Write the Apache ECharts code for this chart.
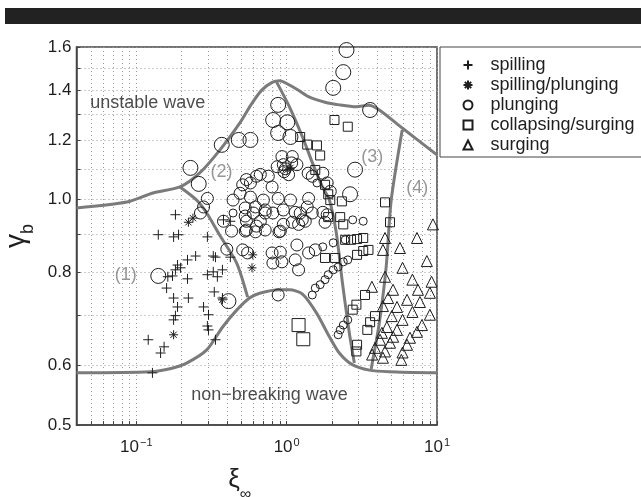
<!DOCTYPE html>
<html><head><meta charset="utf-8">
<script src="https://cdn.jsdelivr.net/npm/echarts@6/dist/echarts.min.js"></script>
<style>html,body{margin:0;padding:0;background:#fff}#c{width:641px;height:497px}</style>
</head><body><div id="c"></div>
<script>
// ---- axis ticks / grid values ----
const xTicks = [0.1, 1, 10];
const xGrid = [0.05,0.06,0.07,0.08,0.09,0.1,0.2,0.3,0.4,0.5,0.6,0.7,0.8,0.9,1,2,3,4,5,6,7,8,9,10];
const yTicks = [0.5, 0.6, 0.8, 1.0, 1.2, 1.4, 1.6];
const yGrid = [0.5,0.6,0.7,0.8,0.9,1.0,1.1,1.2,1.3,1.4,1.5,1.6];

// ---- data points [xi_inf, gamma_b] ----
const spilling = [[0.182,0.955],[0.140,0.898],[0.177,0.892],[0.191,0.898],[0.297,0.892],[0.248,0.841],[0.219,0.831],[0.188,0.818],[0.182,0.806],[0.197,0.811],[0.174,0.791],[0.162,0.789],[0.219,0.784],[0.159,0.762],[0.177,0.739],[0.222,0.739],[0.188,0.719],[0.182,0.700],[0.177,0.691],[0.120,0.650],[0.153,0.636],[0.145,0.624],[0.128,0.587],[0.325,0.841],[0.297,0.794],[0.325,0.801],[0.374,0.806],[0.346,0.789],[0.330,0.753],[0.374,0.739],[0.280,0.719],[0.302,0.702],[0.297,0.678],[0.302,0.670],[0.336,0.650],[0.380,0.940],[0.422,0.838],[0.336,0.838],[0.422,0.936]];
const spillingPlunging = [[0.222,0.933],[0.238,0.945],[0.177,0.660],[0.374,0.735],[0.588,0.811],[0.595,0.844],[1.01,1.096],[1.06,1.103]];
const plungingLarge = [[2.50,1.585],[2.38,1.481],[2.04,1.411],[3.59,1.318],[0.878,1.339],[0.813,1.278],[1.01,1.269],[0.878,1.228],[1.06,1.213],[0.574,1.202],[0.48,1.202],[0.37,1.184],[0.229,1.103],[0.26,1.050],[2.85,1.097],[0.140,0.791],[0.41,0.732],[2.64,1.017]];
const plungingMid = [[0.93,1.142],[1.09,1.142],[0.95,1.114],[1.17,1.114],[0.865,1.107],[0.63,1.075],[0.51,1.047],[0.574,1.053],[0.297,1.004],[0.44,0.999],[0.49,1.020],[0.53,0.975],[0.60,0.960],[0.267,0.960],[0.38,0.936],[0.43,0.908],[0.54,0.936],[0.53,0.908],[0.63,0.922],[0.668,1.081],[0.755,1.075],[0.54,1.064],[1.39,1.085],[1.48,1.075],[1.74,1.085],[1.86,1.053],[0.80,1.040],[0.70,0.999],[0.574,1.008],[0.878,1.004],[1.06,0.999],[1.40,1.004],[1.37,0.978],[1.95,1.026],[0.62,0.978],[0.72,0.969],[0.95,0.969],[1.23,0.960],[1.48,0.960],[1.74,0.962],[1.80,0.933],[0.668,0.936],[0.907,0.908],[1.20,0.927],[1.33,0.936],[0.53,0.951],[0.72,0.960],[0.81,0.960],[1.14,0.962],[1.86,0.955],[0.54,0.911],[0.62,0.906],[0.72,0.911],[0.89,0.906],[0.95,0.927],[1.09,0.933],[1.27,0.940],[1.17,0.870],[1.40,0.849],[1.55,0.857],[0.80,0.849],[0.907,0.851],[0.81,0.823],[0.93,0.826],[1.14,0.831],[1.20,0.806],[0.51,0.857],[0.55,0.849],[0.878,0.746],[0.40,0.859],[0.28,0.978],[0.98,1.10],[1.03,1.08],[0.96,1.09],[1.08,1.12]];
const plungingSmall = [[0.44,0.960],[1.59,1.053],[2.75,0.940],[3.23,0.936],[1.74,0.865],[2.04,0.876],[2.45,0.884],[1.48,0.746],[1.55,0.762],[1.67,0.770],[1.80,0.782],[1.89,0.794],[2.04,0.806],[2.20,0.813],[2.38,0.826],[2.55,0.831],[2.20,0.660],[2.27,0.670],[2.38,0.680],[2.55,0.691]];
const collapsing = [[2.08,1.278],[2.55,1.252],[1.23,1.213],[1.37,1.185],[1.59,1.182],[1.67,1.146],[1.55,1.096],[1.80,1.047],[1.89,1.017],[1.95,0.999],[2.33,0.995],[4.51,0.992],[1.89,0.948],[2.27,0.948],[2.38,0.927],[4.87,0.933],[2.45,0.884],[2.68,0.884],[2.94,0.886],[3.23,0.889],[2.94,0.844],[3.23,0.854],[3.50,0.857],[1.80,0.836],[2.10,0.836],[3.32,0.746],[2.91,0.724],[2.75,0.713],[3.87,0.699],[3.59,0.686],[3.44,0.670],[2.94,0.640],[2.91,0.627]];
const collapsingLarge = [[1.20,0.680],[1.29,0.651]];
const surging = [[9.4,0.927],[7.36,0.889],[4.51,0.889],[4.37,0.857],[5.67,0.862],[8.56,0.828],[5.90,0.811],[4.51,0.789],[6.86,0.782],[9.2,0.777],[3.69,0.765],[5.10,0.758],[7.47,0.758],[8.97,0.751],[4.73,0.739],[6.32,0.735],[7.70,0.730],[4.37,0.721],[5.42,0.719],[6.86,0.708],[8.97,0.702],[5.00,0.699],[5.90,0.691],[7.94,0.680],[4.64,0.676],[5.42,0.670],[7.36,0.666],[4.30,0.664],[5.11,0.656],[6.61,0.654],[4.18,0.650],[4.87,0.644],[6.32,0.640],[3.87,0.634],[4.51,0.627],[5.90,0.625],[3.70,0.621],[4.37,0.615],[5.79,0.611]];

// ---- boundary curves ----
const upperCurve = [[0.04,0.975],[0.0865,0.993],[0.129,1.021],[0.195,1.040],[0.264,1.086],[0.359,1.165],[0.487,1.266],[0.58,1.34],[0.68,1.40],[0.80,1.435],[0.90,1.442],[1.0,1.43],[1.2,1.40],[1.42,1.371],[1.8,1.35],[2.24,1.339],[2.9,1.331],[3.5,1.337],[4.13,1.318],[5.87,1.247],[10,1.148]];
const lowerCurve = [[0.04,0.587],[0.123,0.589],[0.17,0.595],[0.216,0.605],[0.294,0.630],[0.375,0.676],[0.465,0.712],[0.566,0.739],[0.661,0.750],[0.896,0.758],[1.045,0.758],[1.275,0.748],[1.578,0.706],[1.925,0.656],[2.24,0.624],[2.73,0.602],[3.55,0.592],[4.82,0.589],[10,0.587]];
const divider12 = [[0.195,1.040],[0.252,0.999],[0.294,0.960],[0.358,0.897],[0.465,0.823],[0.55,0.741]];
const divider23 = [[0.856,1.437],[1.045,1.330],[1.275,1.213],[1.484,1.120],[1.73,1.040],[1.925,0.999],[2.14,0.903],[2.35,0.774],[2.61,0.664],[2.82,0.605]];
const divider34 = [[5.87,1.239],[4.96,0.999],[4.59,0.813],[4.13,0.684],[3.71,0.605],[3.65,0.594]];

// ---- annotations [text, x, y, kind] ----
const notes = [['unstable wave',0.119,1.347,'t'],['non\u2212breaking wave',0.769,0.548,'t'],['(1)',0.0852,0.793,'r'],['(2)',0.369,1.089,'r'],['(3)',3.71,1.141,'r'],['(4)',7.38,1.037,'r']];

const FONT = '"Liberation Sans", Arial, Helvetica, sans-serif';
const INK = '#1e1e1e';
const PLUS = 'path://M5,0L5,10M0,5L10,5';
const STAR = 'path://M5,0L5,10M0,5L10,5M1.5,1.5L8.5,8.5M8.5,1.5L1.5,8.5';

function pts(name, data, symbol, size) {
  return {type:'scatter', name, data, symbol, symbolSize:size, silent:true, z:4,
    itemStyle:{color:'rgba(0,0,0,0)', borderColor:INK, borderWidth:1, opacity:1},
    emphasis:{disabled:true}};
}
function curve(data) {
  return {type:'line', data, symbol:'none', showSymbol:false, smooth:0.25, silent:true, z:3,
    lineStyle:{color:'#7b7b7b', width:3}, emphasis:{disabled:true}};
}

const chart = echarts.init(document.getElementById('c'), null, {renderer:'canvas'});
chart.setOption({
  backgroundColor:'#fff',
  animation:false,
  textStyle:{fontFamily:FONT},
  graphic:[
    {type:'rect', shape:{x:5,y:8,width:636,height:16}, style:{fill:'#222'}, z:10},
    {type:'rect', shape:{x:440,y:47,width:300,height:110}, style:{fill:'#fff', stroke:'#444', lineWidth:1}, z:1}
  ],
  grid:{left:76.5, right:204, top:47, bottom:72, show:true, borderColor:'#444', borderWidth:1.5,
        backgroundColor:'#fff', containLabel:false, outerBoundsMode:'none'},
  legend:{
    data:['spilling','spilling/plunging','plunging','collapsing/surging','surging'],
    orient:'vertical', left:440, top:47, padding:[8,10,2,22.5], itemGap:0,
    itemWidth:9, itemHeight:9, borderWidth:0, z:5,
    selectedMode:false,
    textStyle:{fontSize:18, color:INK, fontFamily:FONT, lineHeight:20, padding:[0,0,0,13]}
  },
  xAxis:{
    type:'log', logBase:10, min:0.04, max:10,
    name:'{a|\u03BE}{b|\u221E}', nameLocation:'middle', nameGap:40,
    nameTextStyle:{padding:[0,34,0,0], rich:{a:{fontSize:26, color:INK, fontFamily:FONT, lineHeight:30}, b:{fontSize:16, color:INK, fontFamily:FONT, verticalAlign:'bottom', padding:[0,0,-8,0]}}},
    axisLine:{onZero:false, lineStyle:{color:'#444', width:1.5}},
    axisTick:{customValues:xGrid, inside:true, length:4, lineStyle:{color:'#444'}},
    axisLabel:{customValues:xTicks, fontSize:17, color:INK, margin:12, fontFamily:FONT,
      formatter:v=>{const e=Math.round(Math.log10(v)); return '10{s|'+(e<0?'\u2212'+(-e):e)+'}';},
      rich:{s:{fontSize:11, color:INK, fontFamily:FONT, verticalAlign:'top', padding:[0,0,10,1]}}},
    splitLine:{show:true, lineStyle:{color:'#999', width:1, type:[1,3]}}
  },
  yAxis:{
    type:'log', logBase:10, min:0.5, max:1.6,
    name:'{a|\u03B3}{b|b}', nameLocation:'middle', nameRotate:90, nameGap:38,
    nameTextStyle:{rich:{a:{fontSize:28, color:INK, fontFamily:FONT, lineHeight:30}, b:{fontSize:18, color:INK, fontFamily:FONT, verticalAlign:'bottom', padding:[0,0,-6,0]}}},
    axisLine:{onZero:false, lineStyle:{color:'#444', width:1.5}},
    axisTick:{customValues:yGrid, inside:true, length:4, lineStyle:{color:'#444'}},
    axisLabel:{customValues:yTicks, fontSize:17, color:INK, margin:5, fontFamily:FONT, formatter:v=>v.toFixed(1)},
    splitLine:{show:true, lineStyle:{color:'#999', width:1, type:[1,3]}}
  },
  series:[
    curve(upperCurve), curve(lowerCurve), curve(divider12), curve(divider23), curve(divider34),
    pts('spilling', spilling, PLUS, 10),
    pts('spilling/plunging', spillingPlunging, STAR, 9),
    pts('plunging', plungingMid, 'circle', 12),
    pts('plunging', plungingLarge, 'circle', 15),
    pts('plunging', plungingSmall, 'circle', 8),
    pts('collapsing/surging', collapsing, 'rect', 9),
    pts('collapsing/surging', collapsingLarge, 'rect', 13),
    pts('surging', surging, 'triangle', 11),
    {type:'scatter', silent:true, z:5, symbolSize:0,
     data:notes.map(n=>({name:n[0], value:[n[1],n[2]], label:{color:n[3]==='r'?'#7d7d7d':INK}})),
     label:{show:true, position:'inside', formatter:p=>p.name, fontSize:18, fontFamily:FONT, color:INK}}
  ]
});
</script></body></html>
